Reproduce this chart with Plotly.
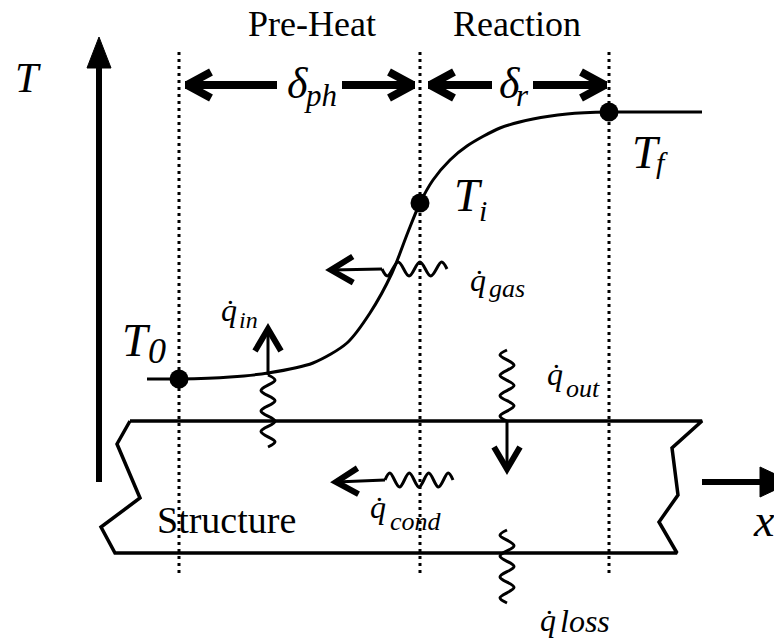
import plotly.graph_objects as go

# ---------------- data (diagram units = page pixels: x right, y down) ----------------
region_labels = ["Pre-Heat", "Reaction"]
region_label_x = [312, 517]
region_label_y = [24, 24]

boundary_x = [179, 420, 609]          # start of pre-heat, ignition, flame end
boundary_y = [52, 574]

# temperature profile T(x)
profile_x = [147, 179, 230, 268, 313, 347, 370, 392, 408, 420, 433, 450, 467, 500, 533, 567, 609, 650, 702]
profile_y = [379, 379, 377, 373, 363, 343, 313, 273, 232, 203, 180, 160, 146, 128, 119, 114, 112, 112, 112]

# marked temperatures
point_main = ["T", "T", "T"]
point_sub = ["0", "i", "f"]
point_x = [179, 420, 609]
point_y = [379, 203, 112]
point_label_x = [136, 468, 646]
point_label_y = [340, 195, 152]
point_sub_x = [146, 477, 654]
point_sub_y = [351, 210, 162]
point_sub_size = [36, 30, 30]

# zone widths (double arrows)
zone_main = ["δ", "δ"]
zone_sub = ["ph", "r"]
zone_left = [185, 428]
zone_right = [415, 607]
zone_gap_left = [277, 492]
zone_gap_right = [342, 533]
zone_label_x = [298, 510]
zone_sub_x = [302, 514]
zone_y = 85

# structure outline
structure_x = [130, 702, 672, 678, 659, 677, 115, 101, 140, 117, 130]
structure_y = [421, 421, 448, 495, 522, 553, 553, 527, 498, 444, 421]

# heat fluxes: wavy segment start/end, straight shaft end (arrow tip)
flux_labels = ["in", "gas", "out", "cond", "loss"]
flux_wave_start = [(268, 447), (447, 269), (507, 350), (453, 480), (507, 530)]
flux_wave_end = [(268, 375), (382, 269), (507, 421), (385, 480), (507, 603)]
flux_tip = [(268, 329), (331, 270), (507, 469), (336, 482), None]
flux_q_x = [229, 478, 555, 378, 548]
flux_q_y = [310, 280, 374, 507, 620]
flux_sub_x = [237, 487, 564, 388, 558]
flux_sub_y = [320, 288, 388, 521, 621]
flux_sub_size = [24, 26, 26, 26, 32]

FONT = "Liberation Serif, Times New Roman, serif"

fig = go.Figure()


def add_line(xs, ys, width, dash="solid", shape="linear", fill=None, smoothing=1.0):
    fig.add_trace(go.Scatter(
        x=xs, y=ys, mode="lines",
        line=dict(color="black", width=width, dash=dash, shape=shape,
                  smoothing=smoothing if shape == "spline" else None),
        fill=fill, fillcolor="black" if fill else None,
        hoverinfo="skip", showlegend=False))


def chevron(tip, direction, length, half_width, width):
    dx, dy = direction
    nx, ny = -dy, dx
    tx, ty = tip
    xs = [tx - length * dx + half_width * nx, tx, tx - length * dx - half_width * nx]
    ys = [ty - length * dy + half_width * ny, ty, ty - length * dy - half_width * ny]
    add_line(xs, ys, width)


def squiggle(start, end, half_cycles, amp):
    (x0, y0), (x1, y1) = start, end
    L = ((x1 - x0) ** 2 + (y1 - y0) ** 2) ** 0.5
    dx, dy = (x1 - x0) / L, (y1 - y0) / L
    nx, ny = -dy, dx
    xs, ys = [x0], [y0]
    for k in range(half_cycles):
        t = (k + 0.5) / half_cycles
        s = amp if k % 2 == 0 else -amp
        xs.append(x0 + t * (x1 - x0) + s * nx)
        ys.append(y0 + t * (y1 - y0) + s * ny)
    xs.append(x1)
    ys.append(y1)
    add_line(xs, ys, 3, shape="spline", smoothing=1.0)


# dotted boundaries
for bx in boundary_x:
    add_line([bx, bx], boundary_y, 3, dash="3px,4px")

# structure
add_line(structure_x, structure_y, 3.5)

# axes with filled heads
add_line([99, 99], [482, 62], 6)
add_line([87, 99, 111, 87], [68, 37, 68, 68], 1, fill="toself")
add_line([702, 765], [482, 482], 6)
add_line([760, 792, 760, 760], [467, 482, 497, 467], 1, fill="toself")

# zone double arrows
for i in range(len(zone_main)):
    add_line([zone_left[i], zone_gap_left[i]], [zone_y, zone_y], 8)
    add_line([zone_gap_right[i], zone_right[i]], [zone_y, zone_y], 8)
    chevron((zone_left[i] + 2, zone_y), (-1, 0), 24, 13, 8)
    chevron((zone_right[i] - 2, zone_y), (1, 0), 24, 13, 8)

# temperature profile
fig.add_trace(go.Scatter(x=profile_x, y=profile_y, mode="lines",
                         line=dict(color="black", width=3, shape="spline", smoothing=0.8),
                         hoverinfo="skip", showlegend=False))
fig.add_trace(go.Scatter(x=point_x, y=point_y, mode="markers",
                         marker=dict(color="black", size=19),
                         hoverinfo="skip", showlegend=False))

# heat flux arrows
for i in range(len(flux_labels)):
    s, e, tip = flux_wave_start[i], flux_wave_end[i], flux_tip[i]
    L = ((e[0] - s[0]) ** 2 + (e[1] - s[1]) ** 2) ** 0.5
    squiggle(s, e, max(2, round(L / 10)), 7)
    if tip is not None:
        add_line([e[0], tip[0]], [e[1], tip[1]], 3)
        d = ((tip[0] - e[0]), (tip[1] - e[1]))
        dl = (d[0] ** 2 + d[1] ** 2) ** 0.5
        chevron(tip, (d[0] / dl, d[1] / dl), 22, 13, 6)

ann = []


def text(x, y, s, size, xanchor="center"):
    ann.append(dict(x=x, y=y, xref="x", yref="y", text=s, showarrow=False,
                    font=dict(family=FONT, size=size, color="black"),
                    xanchor=xanchor, yanchor="middle"))


for lab, lx, ly in zip(region_labels, region_label_x, region_label_y):
    text(lx, ly, lab, 36)
for i in range(len(zone_main)):
    text(zone_label_x[i], zone_y - 2, "<i>" + zone_main[i] + "</i>", 44)
    text(zone_sub_x[i], zone_y + 10, "<i>" + zone_sub[i] + "</i>", 31, xanchor="left")
for i in range(len(point_main)):
    text(point_label_x[i], point_label_y[i], "<i>" + point_main[i] + "</i>", 46)
    text(point_sub_x[i], point_sub_y[i], "<i>" + point_sub[i] + "</i>", point_sub_size[i], xanchor="left")
for i in range(len(flux_labels)):
    text(flux_q_x[i], flux_q_y[i], "<i>q̇</i>", 32)
    text(flux_sub_x[i], flux_sub_y[i], "<i>" + flux_labels[i] + "</i>", flux_sub_size[i], xanchor="left")
text(28, 78, "<i>T</i>", 42)
text(764, 520, "<i>x</i>", 46)
text(226, 520, "Structure", 38)

# the page places the figure 8 px in from the top-left corner; shift ranges so units = page px
fig.update_layout(
    width=782, height=643,
    margin=dict(l=0, r=0, t=0, b=0),
    paper_bgcolor="white", plot_bgcolor="white",
    xaxis=dict(range=[8, 790], visible=False, fixedrange=True),
    yaxis=dict(range=[651, 8], visible=False, fixedrange=True),
    annotations=ann,
)

fig.write_html("out.html")
